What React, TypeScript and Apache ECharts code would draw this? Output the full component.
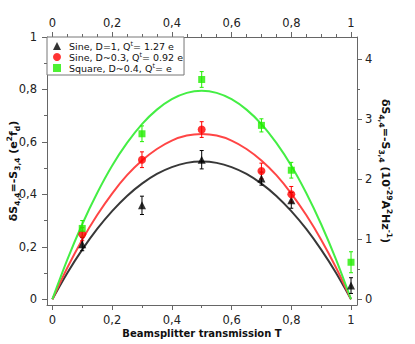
import React, { useEffect, useRef } from "react";
import * as echarts from "echarts";

const T = [0, 0.05, 0.1, 0.15, 0.2, 0.25, 0.3, 0.35, 0.4, 0.45, 0.5, 0.55, 0.6, 0.65, 0.7, 0.75, 0.8, 0.85, 0.9, 0.95, 1];
const fitBlack = [0, 0.1, 0.189, 0.268, 0.336, 0.394, 0.441, 0.478, 0.504, 0.52, 0.525, 0.52, 0.504, 0.478, 0.441, 0.394, 0.336, 0.268, 0.189, 0.1, 0];
const fitRed = [0, 0.12, 0.227, 0.321, 0.403, 0.473, 0.529, 0.573, 0.605, 0.624, 0.63, 0.624, 0.605, 0.573, 0.529, 0.473, 0.403, 0.321, 0.227, 0.12, 0];
const fitGreen = [0, 0.151, 0.286, 0.405, 0.509, 0.596, 0.668, 0.723, 0.763, 0.787, 0.795, 0.787, 0.763, 0.723, 0.668, 0.596, 0.509, 0.405, 0.286, 0.151, 0];

const blackX = [0.1, 0.3, 0.5, 0.7, 0.8, 1.0];
const blackY = [0.21, 0.358, 0.532, 0.46, 0.377, 0.052];
const blackErr = [0.025, 0.035, 0.035, 0.025, 0.03, 0.03];

const redX = [0.1, 0.3, 0.5, 0.7, 0.8];
const redY = [0.248, 0.532, 0.647, 0.489, 0.4];
const redErr = [0.025, 0.03, 0.03, 0.03, 0.03];

const greenX = [0.1, 0.3, 0.5, 0.7, 0.8, 1.0];
const greenY = [0.27, 0.631, 0.838, 0.663, 0.492, 0.141];
const greenErr = [0.03, 0.03, 0.03, 0.025, 0.03, 0.04];

const xMajor = [0, 0.2, 0.4, 0.6, 0.8, 1];
const xMinorBottom = [0.1, 0.3, 0.5, 0.7, 0.9];
const xMinorTop = [0.05, 0.1, 0.15, 0.25, 0.3, 0.35, 0.45, 0.5, 0.55, 0.65, 0.7, 0.75, 0.85, 0.9, 0.95];
const yMajor = [0, 0.2, 0.4, 0.6, 0.8, 1];
const yMinor = [0.1, 0.3, 0.5, 0.7, 0.9];
const rMajor = [0, 1, 2, 3, 4];
const rMinor = [0.5, 1.5, 2.5, 3.5];

const names = [
  "Sine, D=1, Qt= 1.27 e",
  "Sine, D~0.3, Qt= 0.92 e",
  "Square, D~0.4, Qt= e",
];
const legendRich = [
  "{n|Sine, D=1, Q}{sup|t}{n|= 1.27 e}",
  "{n|Sine, D~0.3, Q}{sup|t}{n|= 0.92 e}",
  "{n|Square, D~0.4, Q}{sup|t}{n|= e}",
];

const C_BLACK = "#000000";
const C_RED = "#ff0000";
const C_GREEN = "#22ee00";
const L_BLACK = "#383838";
const L_RED = "#ff4545";
const L_GREEN = "#44ee44";

const XMIN = -0.018;
const XMAX = 1.02;
const YMIN = -0.022;
const YMAX = 1;
const RF = 4.37;

const fmt = (v: number) => String(v).replace(".", ",");
const FONT = "DejaVu Sans";

function errSeries(xs: number[], ys: number[], es: number[], color: string) {
  return {
    type: "custom",
    xAxisIndex: 0,
    yAxisIndex: 0,
    z: 4,
    silent: true,
    data: xs.map((x, i) => [x, ys[i] - es[i], ys[i] + es[i]]),
    renderItem: (params: any, api: any) => {
      const lo = api.coord([api.value(0), api.value(1)]);
      const hi = api.coord([api.value(0), api.value(2)]);
      const w = 2;
      const style = { stroke: color, lineWidth: 1 };
      return {
        type: "group",
        children: [
          { type: "line", shape: { x1: lo[0], y1: lo[1], x2: hi[0], y2: hi[1] }, style },
          { type: "line", shape: { x1: lo[0] - w, y1: lo[1], x2: lo[0] + w, y2: lo[1] }, style },
          { type: "line", shape: { x1: hi[0] - w, y1: hi[1], x2: hi[0] + w, y2: hi[1] }, style },
        ],
      };
    },
  };
}

function minorAxis(position: string, min: number, max: number, values: number[], len: number) {
  return {
    type: "value",
    position,
    min,
    max,
    axisLine: { show: false, onZero: false },
    splitLine: { show: false },
    axisLabel: { show: false },
    axisTick: { show: true, length: len, customValues: values, lineStyle: { color: "#666", width: 1 } },
  };
}

export default function App() {
  const ref = useRef<HTMLDivElement>(null);
  useEffect(() => {
    if (!ref.current) return;
    const chart = echarts.init(ref.current, null, { renderer: "svg" });
    const axisLine = { show: true, onZero: false, lineStyle: { color: "#666", width: 1 } };
    const labelStyle = { fontFamily: FONT, fontSize: 11.5, color: "#222" };
    const nameRich = {
      n: { fontFamily: FONT, fontSize: 11, fontWeight: "bold", color: "#111", lineHeight: 16 },
      sub: { fontFamily: FONT, fontSize: 7.5, fontWeight: "bold", color: "#111", lineHeight: 16, verticalAlign: "bottom" },
      sup: { fontFamily: FONT, fontSize: 7.5, fontWeight: "bold", color: "#111", lineHeight: 16, verticalAlign: "top" },
    };
    chart.setOption({
      animation: false,
      backgroundColor: "#ffffff",
      grid: { left: 47, right: 58, top: 37, bottom: 39, containLabel: false, outerBoundsMode: "none" },
      legend: {
        left: 47,
        top: 37,
        orient: "vertical",
        backgroundColor: "#ffffff",
        borderColor: "#777",
        borderWidth: 1,
        padding: [3, 1, 2, 6],
        itemGap: 0,
        itemWidth: 8,
        itemHeight: 8,
        data: [
          { name: names[0], icon: "triangle" },
          { name: names[1], icon: "circle" },
          { name: names[2], icon: "rect" },
        ],
        formatter: (name: string) => legendRich[names.indexOf(name)],
        textStyle: {
          padding: [0, 0, 0, 3],
          rich: {
            n: { fontFamily: FONT, fontSize: 9.5, color: "#111", lineHeight: 12 },
            sup: { fontFamily: FONT, fontSize: 6.5, color: "#111", lineHeight: 12, verticalAlign: "top" },
          },
        },
      },
      xAxis: [
        {
          type: "value",
          position: "bottom",
          min: XMIN,
          max: XMAX,
          axisLine,
          splitLine: { show: false },
          axisTick: { show: true, length: 5, customValues: xMajor, lineStyle: { color: "#666" } },
          axisLabel: { ...labelStyle, margin: 9, customValues: xMajor, formatter: fmt },
          name: "Beamsplitter transmission T",
          nameLocation: "middle",
          nameGap: 23,
          nameMoveOverlap: false,
          nameTextStyle: { fontFamily: FONT, fontSize: 10, fontWeight: "bold", color: "#111" },
        },
        minorAxis("bottom", XMIN, XMAX, xMinorBottom, 3),
        {
          type: "value",
          position: "top",
          min: XMIN,
          max: XMAX,
          axisLine,
          splitLine: { show: false },
          axisTick: { show: true, length: 5, customValues: xMajor, lineStyle: { color: "#666" } },
          axisLabel: { ...labelStyle, margin: 8, customValues: xMajor, formatter: fmt },
        },
        minorAxis("top", XMIN, XMAX, xMinorTop, 3),
      ],
      yAxis: [
        {
          type: "value",
          position: "left",
          min: YMIN,
          max: YMAX,
          axisLine,
          splitLine: { show: false },
          axisTick: { show: true, length: 5, customValues: yMajor, lineStyle: { color: "#666" } },
          axisLabel: { ...labelStyle, margin: 10, customValues: yMajor, formatter: fmt },
          name: "{n|δS}{sub|4,4}{n|=-S}{sub|3,4}{n| (e}{sup|2}{n|f}{sub|d}{n|)}",
          nameLocation: "middle",
          nameRotate: 90,
          nameGap: 26,
          nameMoveOverlap: false,
          nameTextStyle: { rich: nameRich },
        },
        minorAxis("left", YMIN, YMAX, yMinor, 3),
        {
          type: "value",
          position: "right",
          min: YMIN * RF,
          max: YMAX * RF,
          axisLine,
          splitLine: { show: false },
          axisTick: { show: true, length: 5, customValues: rMajor, lineStyle: { color: "#666" } },
          axisLabel: { ...labelStyle, margin: 8, customValues: rMajor, formatter: fmt },
          name: "{n|δS}{sub|4,4}{n|=-S}{sub|3,4}{n| (10}{sup|-29}{n|A}{sup|2}{n|Hz}{sup|-1}{n|)}",
          nameLocation: "middle",
          nameRotate: -90,
          nameGap: 20,
          nameMoveOverlap: false,
          nameTextStyle: { rich: nameRich },
        },
        minorAxis("right", YMIN * RF, YMAX * RF, rMinor, 3),
      ],
      series: [
        { type: "line", data: T.map((t, i) => [t, fitBlack[i]]), smooth: 0.3, showSymbol: false, lineStyle: { color: L_BLACK, width: 2 }, z: 2 },
        { type: "line", data: T.map((t, i) => [t, fitRed[i]]), smooth: 0.3, showSymbol: false, lineStyle: { color: L_RED, width: 2 }, z: 2 },
        { type: "line", data: T.map((t, i) => [t, fitGreen[i]]), smooth: 0.3, showSymbol: false, lineStyle: { color: L_GREEN, width: 2 }, z: 2 },
        errSeries(blackX, blackY, blackErr, C_BLACK),
        errSeries(redX, redY, redErr, C_RED),
        errSeries(greenX, greenY, greenErr, C_GREEN),
        { type: "scatter", name: names[0], symbol: "triangle", symbolSize: 8, itemStyle: { color: C_BLACK }, data: blackX.map((x, i) => [x, blackY[i]]), z: 5 },
        { type: "scatter", name: names[1], symbol: "circle", symbolSize: 8, itemStyle: { color: C_RED }, data: redX.map((x, i) => [x, redY[i]]), z: 5 },
        { type: "scatter", name: names[2], symbol: "rect", symbolSize: 7, itemStyle: { color: C_GREEN }, data: greenX.map((x, i) => [x, greenY[i]]), z: 5 },
      ],
    });
    return () => chart.dispose();
  }, []);
  return <div ref={ref} style={{ width: 415, height: 344, position: "absolute", left: 0, top: 0 }} />;
}
